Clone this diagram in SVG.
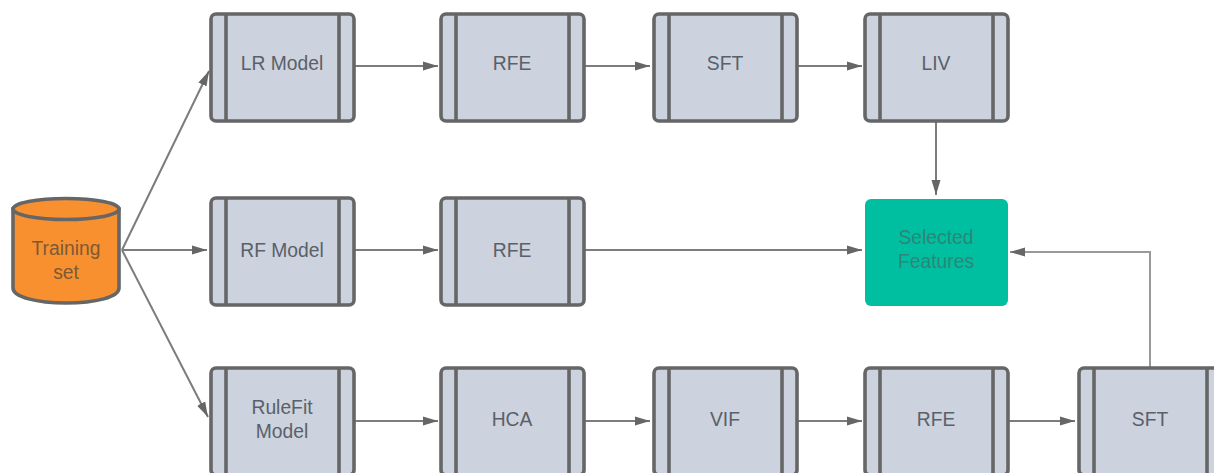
<svg xmlns="http://www.w3.org/2000/svg" width="1214" height="473" viewBox="0 0 1214 473">
<style>
.b{fill:#ccd3de;stroke:#666;stroke-width:3.6}
.d{fill:none;stroke:#666;stroke-width:3.6}
text{font-family:"Liberation Sans",Arial,sans-serif;font-size:19.3px;fill:#5a6069;text-anchor:middle}
.c{fill:none;stroke:#7c7c7c;stroke-width:2;marker-end:url(#a)}
.o{fill:#7d5a36}
.g{fill:#2f8576}
</style>
<defs>
<marker id="a" markerUnits="userSpaceOnUse" markerWidth="16" markerHeight="12" refX="15" refY="6" orient="auto"><path d="M0 1.5L15 6L0 10.5Z" fill="#666"/></marker>
<g id="p"><rect class="b" x="0" y="0" width="143" height="107" rx="5"/><path class="d" d="M15 0V107M128 0V107"/></g>
</defs>
<rect width="1214" height="473" fill="#fff"/>
<g id="connectors">
<path class="c" d="M122 250L209 71"/>
<path class="c" d="M122 250H207"/>
<path class="c" d="M122 250L208 417"/>
<path class="c" d="M354 66H438"/>
<path class="c" d="M584 66H650"/>
<path class="c" d="M797 66H862"/>
<path class="c" d="M936 121V195"/>
<path class="c" d="M354 250H438"/>
<path class="c" d="M584 250H862"/>
<path class="c" d="M355 421H438"/>
<path class="c" d="M584 421H650"/>
<path class="c" d="M797 421H862"/>
<path class="c" d="M1008 421H1075"/>
<path class="c" d="M1150 367V252H1010" style="stroke:#999"/>
</g>
<g id="training"><path d="M13 209V288C13 297 37 303 66 303C96 303 119 297 119 288V209Z" fill="#f8902f" stroke="#666" stroke-width="3.6"/><ellipse cx="66" cy="209" rx="53" ry="10.5" fill="#f8902f" stroke="#666" stroke-width="3.6"/><text class="o" x="66" y="255">Training</text><text class="o" x="66" y="279">set</text></g>
<g id="lr"><use href="#p" x="211" y="14"/><text x="282" y="70">LR Model</text></g>
<g id="rfe1"><use href="#p" x="441" y="14"/><text x="512" y="70">RFE</text></g>
<g id="sft1"><use href="#p" x="654" y="14"/><text x="725" y="70">SFT</text></g>
<g id="liv"><use href="#p" x="865" y="14"/><text x="936" y="70">LIV</text></g>
<g id="rf"><use href="#p" x="211" y="198"/><text x="282" y="257">RF Model</text></g>
<g id="rfe2"><use href="#p" x="441" y="198"/><text x="512" y="257">RFE</text></g>
<g id="selected"><rect x="865" y="199" width="143" height="107" rx="6" fill="#00bfa0"/><text class="g" x="936" y="244">Selected</text><text class="g" x="936" y="268">Features</text></g>
<g id="rulefit"><use href="#p" x="211" y="368"/><text x="282" y="414">RuleFit</text><text x="282" y="438">Model</text></g>
<g id="hca"><use href="#p" x="441" y="368"/><text x="512" y="426">HCA</text></g>
<g id="vif"><use href="#p" x="654" y="368"/><text x="725" y="426">VIF</text></g>
<g id="rfe3"><use href="#p" x="865" y="368"/><text x="936" y="426">RFE</text></g>
<g id="sft2"><use href="#p" x="1079" y="368"/><text x="1150" y="426">SFT</text></g>
</svg>
